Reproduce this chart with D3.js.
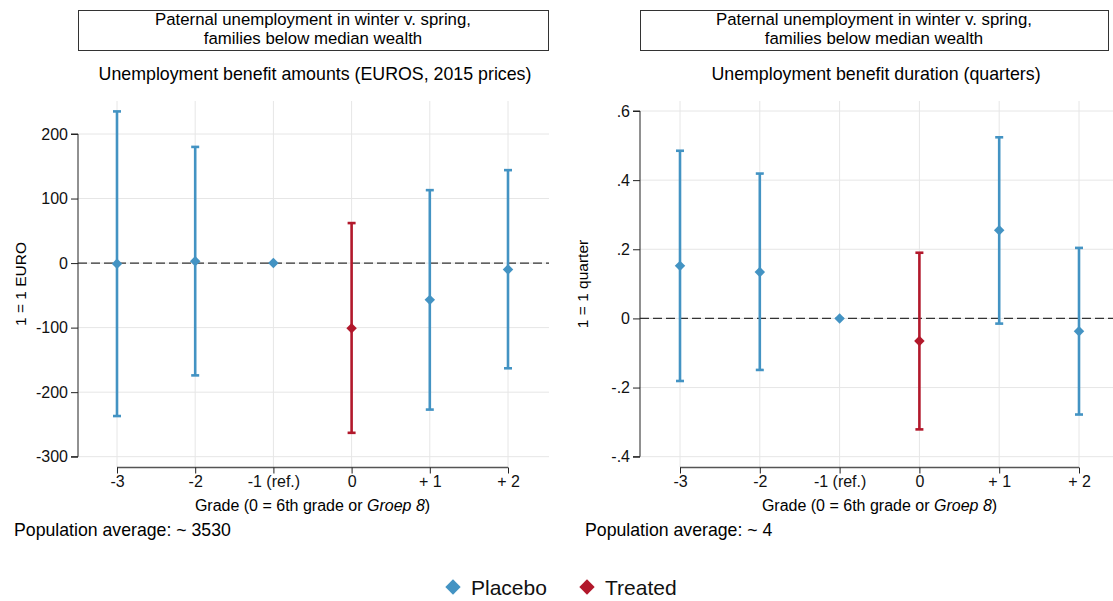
<!DOCTYPE html>
<html>
<head>
<meta charset="utf-8">
<script src="https://cdn.jsdelivr.net/npm/d3@7"></script>
<style>
  body { margin: 0; background: #fff; }
  svg { font-family: "Liberation Sans", Arial, sans-serif; }
</style>
</head>
<body>
<svg id="chart" width="1113" height="601"></svg>
<script>
// categories on the x axis (grade relative to 6th grade)
let grades = ["-3", "-2", "-1 (ref.)", "0", "+ 1", "+ 2"];
let groups = ["Placebo", "Placebo", "Placebo", "Treated", "Placebo", "Placebo"];

// left panel: benefit amounts (euros)
let amountEst = [-1, 3, 0, -101, -57, -10];
let amountLo = [-237, -174, null, -263, -227, -163];
let amountHi = [235, 180, null, 62, 113, 144];
let amountTicks = [-300, -200, -100, 0, 100, 200];
let amountTickLabels = ["-300", "-200", "-100", "0", "100", "200"];

// right panel: benefit duration (quarters)
let durationEst = [0.152, 0.134, 0, -0.065, 0.255, -0.037];
let durationLo = [-0.181, -0.149, null, -0.321, -0.015, -0.278];
let durationHi = [0.485, 0.419, null, 0.190, 0.524, 0.204];
let durationTicks = [-0.4, -0.2, 0, 0.2, 0.4, 0.6];
let durationTickLabels = ["-.4", "-.2", "0", ".2", ".4", ".6"];

let colors = { "Placebo": "#4393c3", "Treated": "#b2182b" };

let svg = d3.select("#chart");
let diamond = d3.symbol().type(d3.symbolDiamond2).size(70);

function drawPanel(p) {
  let g = svg.append("g");

  let x = d3.scalePoint().domain(grades).range([p.xFirst, p.xLast]);
  let y = d3.scaleLinear().domain(d3.extent(p.ticks)).range([456.7, p.yTop]);

  // header box
  g.append("rect")
    .attr("x", p.left + 0.5).attr("y", 10.5)
    .attr("width", p.boxW).attr("height", 40)
    .attr("fill", "#fff").attr("stroke", "#333").attr("stroke-width", 1);
  let cx = p.left + p.boxW / 2;
  g.append("text").attr("x", cx).attr("y", 25).attr("text-anchor", "middle")
    .style("font-size", "16.8px").text("Paternal unemployment in winter v. spring,");
  g.append("text").attr("x", cx).attr("y", 44).attr("text-anchor", "middle")
    .style("font-size", "16.8px").text("families below median wealth");

  g.append("text").attr("x", cx + 2).attr("y", 80).attr("text-anchor", "middle")
    .style("font-size", "17.8px").text(p.subtitle);

  // grid lines
  g.selectAll(".hgrid").data(p.ticks).enter().append("line")
    .attr("x1", p.left).attr("x2", p.right)
    .attr("y1", d => y(d)).attr("y2", d => y(d))
    .attr("stroke", "#e6e6e6").attr("stroke-width", 1);
  g.selectAll(".vgrid").data(grades).enter().append("line")
    .attr("x1", d => x(d)).attr("x2", d => x(d))
    .attr("y1", 101).attr("y2", 467)
    .attr("stroke", "#e6e6e6").attr("stroke-width", 1);

  // zero line
  g.append("line")
    .attr("x1", p.left).attr("x2", p.right)
    .attr("y1", y(0)).attr("y2", y(0))
    .attr("stroke", "#333").attr("stroke-width", 1.2)
    .attr("stroke-dasharray", "9,4");

  // y axis
  let yAxis = d3.axisLeft(y).tickValues(p.ticks).tickSize(7).tickPadding(3)
    .tickFormat((d, i) => p.tickLabels[i]);
  let ya = g.append("g").attr("transform", "translate(" + p.left + ",0)").call(yAxis);
  ya.select(".domain").attr("d", "M-7," + y(p.ticks[0]) + "H0V" + y(p.ticks[p.ticks.length - 1]) + "H-7")
    .attr("stroke", "#222");
  ya.selectAll(".tick line").attr("stroke", "#222");
  ya.selectAll("text").style("font-size", "16px").attr("fill", "#111");

  g.append("text")
    .attr("transform", "translate(" + (p.left - 52) + ",284) rotate(-90)")
    .attr("text-anchor", "middle").style("font-size", "15.5px")
    .text(p.ytitle);

  // x axis
  let xAxis = d3.axisBottom(x).tickSize(6).tickPadding(2);
  let xa = g.append("g").attr("transform", "translate(0,467.5)").call(xAxis);
  xa.select(".domain").attr("d", "M" + p.xFirst + ",0H" + p.xLast).attr("stroke", "#555").attr("stroke-width", 1.5);
  xa.selectAll(".tick line").attr("stroke", "#222");
  xa.selectAll("text").style("font-size", "16px").attr("fill", "#111");

  let xt = g.append("text").attr("x", (p.xFirst + p.xLast) / 2).attr("y", 511)
    .attr("text-anchor", "middle").style("font-size", "16px");
  xt.append("tspan").text("Grade (0 = 6th grade or ");
  xt.append("tspan").style("font-style", "italic").text("Groep 8");
  xt.append("tspan").text(")");

  g.append("text").attr("x", p.popX).attr("y", 536)
    .style("font-size", "17.7px").text(p.popText);

  // error bars
  let rows = grades.map((d, i) => ({ grade: d, group: groups[i], est: p.est[i], lo: p.lo[i], hi: p.hi[i] }));
  let ci = rows.filter(d => d.lo !== null);
  let bars = g.selectAll(".ci").data(ci).enter().append("g")
    .attr("stroke", d => colors[d.group]).attr("stroke-width", 2.6);
  bars.append("line")
    .attr("x1", d => x(d.grade)).attr("x2", d => x(d.grade))
    .attr("y1", d => y(d.lo)).attr("y2", d => y(d.hi));
  bars.append("line")
    .attr("x1", d => x(d.grade) - 4).attr("x2", d => x(d.grade) + 4)
    .attr("y1", d => y(d.lo)).attr("y2", d => y(d.lo));
  bars.append("line")
    .attr("x1", d => x(d.grade) - 4).attr("x2", d => x(d.grade) + 4)
    .attr("y1", d => y(d.hi)).attr("y2", d => y(d.hi));

  g.selectAll(".pt").data(rows).enter().append("path")
    .attr("d", diamond)
    .attr("transform", d => "translate(" + x(d.grade) + "," + y(d.est) + ")")
    .attr("fill", d => colors[d.group]);
}

drawPanel({
  left: 78, right: 549, boxW: 470, xFirst: 117, xLast: 508, yTop: 134,
  ticks: amountTicks, tickLabels: amountTickLabels,
  est: amountEst, lo: amountLo, hi: amountHi,
  subtitle: "Unemployment benefit amounts (EUROS, 2015 prices)",
  ytitle: "1 = 1 EURO", popX: 14, popText: "Population average: ~ 3530"
});

drawPanel({
  left: 640, right: 1113, boxW: 468, xFirst: 680, xLast: 1079, yTop: 111,
  ticks: durationTicks, tickLabels: durationTickLabels,
  est: durationEst, lo: durationLo, hi: durationHi,
  subtitle: "Unemployment benefit duration (quarters)",
  ytitle: "1 = 1 quarter", popX: 585, popText: "Population average: ~ 4"
});

// legend
let legendItems = ["Placebo", "Treated"];
let legendX = d3.scalePoint().domain(legendItems).range([453, 587]);
let lg = svg.selectAll(".legend").data(legendItems).enter().append("g")
  .attr("transform", d => "translate(" + legendX(d) + ",587)");
lg.append("path").attr("d", d3.symbol().type(d3.symbolDiamond2).size(150))
  .attr("fill", d => colors[d]);
lg.append("text").attr("x", 18).attr("y", 7.5)
  .style("font-size", "21px").attr("fill", "#111").text(d => d);
</script>
</body>
</html>
